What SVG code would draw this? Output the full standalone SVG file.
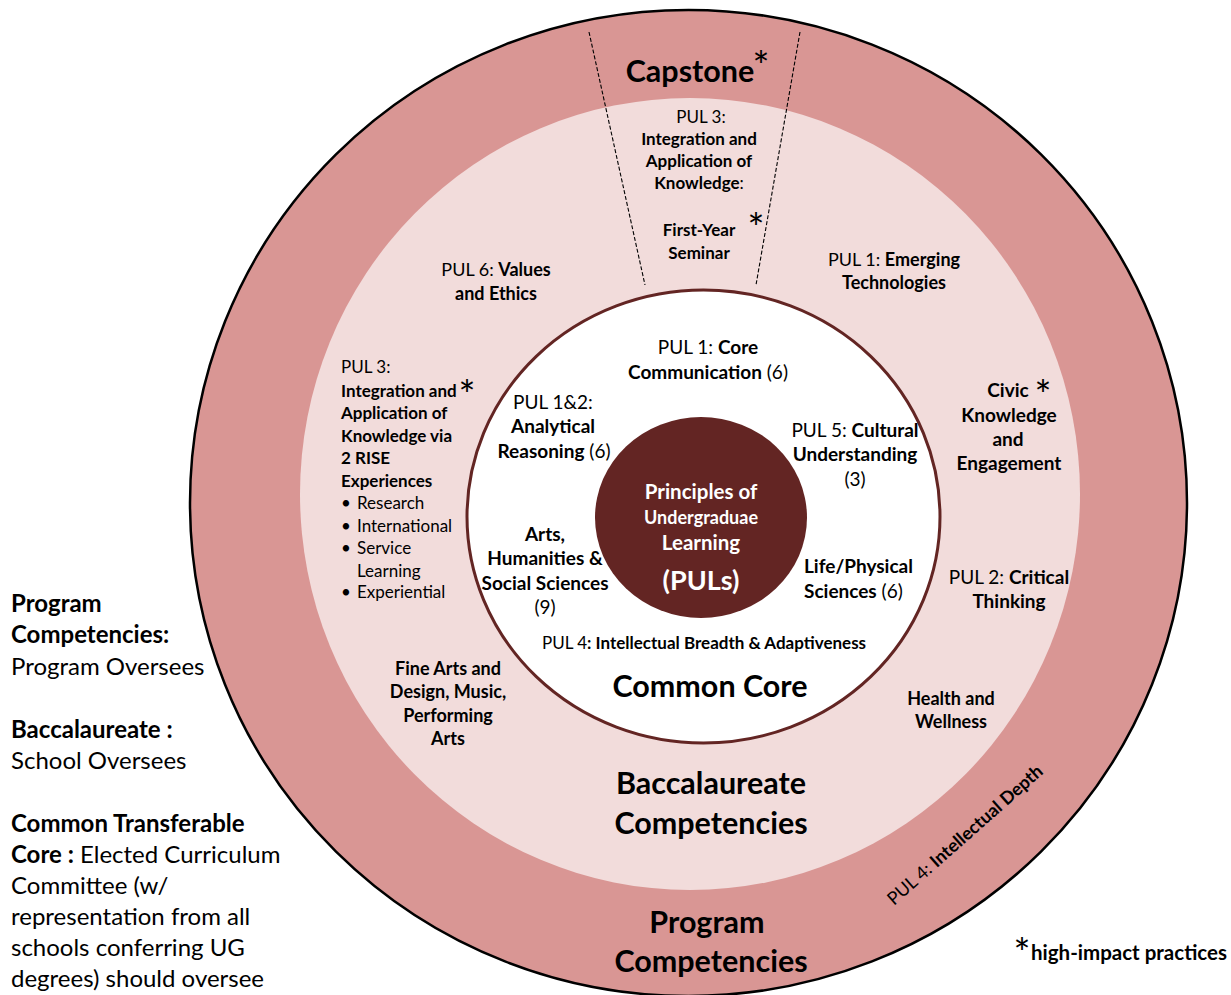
<svg xmlns="http://www.w3.org/2000/svg" width="1231" height="995" viewBox="0 0 1231 995">
<style>
text{font-family:Lato,"Open Sans","Liberation Sans",sans-serif;fill:#000}
.b{font-weight:700}
.r{font-weight:400}
.c{text-anchor:middle}
.s17{font-size:17px}
.s18{font-size:18px}
.s19{font-size:19px}
.big{font-size:30.5px;font-weight:700}
.leg{font-size:24px}
.star{font-size:40px;text-anchor:middle}
.w{fill:#fff;font-weight:700;text-anchor:middle}
.dash{stroke:#000;stroke-width:1.1;stroke-dasharray:4 2;fill:none}
</style>
<rect width="1231" height="995" fill="#fff"/>
<g id="program-ring">
<ellipse cx="688.5" cy="503" rx="498.5" ry="493" fill="#d99694" stroke="#000" stroke-width="2.5"/>
</g>
<g id="baccalaureate-ring">
<ellipse cx="690" cy="494" rx="390" ry="396" fill="#f2dcdb"/>
</g>
<g id="common-core">
<ellipse cx="703.5" cy="516.5" rx="236.5" ry="226.5" fill="#fff" stroke="#632523" stroke-width="3"/>
</g>
<g id="puls-center">
<ellipse cx="701" cy="517.5" rx="106" ry="100.5" fill="#632523"/>
<text class="w" x="701" y="499" style="font-size:20.5px">Principles of</text>
<text class="w" x="701" y="524" style="font-size:18px">Undergraduae</text>
<text class="w" x="701" y="550" style="font-size:20.5px">Learning</text>
<text class="w" x="701" y="590" style="font-size:27px">(PULs)</text>
</g>
<g id="connectors">
<line class="dash" x1="589" y1="32" x2="645" y2="285"/>
<line class="dash" x1="800" y1="32" x2="756" y2="285"/>
</g>
<g id="capstone">
<text class="big c" x="690" y="82">Capstone</text>
<text class="star" x="761" y="81">*</text>
</g>
<g id="first-year-seminar">
<text class="s17 c" x="701" y="123">PUL 3:</text>
<text class="s17 b c" x="699" y="145">Integration and</text>
<text class="s17 b c" x="699" y="167">Application of</text>
<text class="s17 c" x="699" y="189"><tspan class="b">Knowledge</tspan>:</text>
<text class="s17 b c" x="699" y="236">First-Year</text>
<text class="s17 b c" x="699" y="259">Seminar</text>
<text class="star" x="756" y="243">*</text>
</g>
<g id="values-ethics">
<text class="s18 c" x="496" y="276">PUL 6: <tspan class="b">Values</tspan></text>
<text class="s18 b c" x="496" y="300">and Ethics</text>
</g>
<g id="emerging-technologies">
<text class="s18 c" x="894" y="266">PUL 1: <tspan class="b">Emerging</tspan></text>
<text class="s18 b c" x="894" y="289">Technologies</text>
</g>
<g id="rise-experiences">
<text class="s17" x="341" y="373">PUL 3:</text>
<text class="s17 b" x="341" y="397">Integration and</text>
<text class="star" x="467" y="410">*</text>
<text class="s17 b" x="341" y="419">Application of</text>
<text class="s17 b" x="341" y="442">Knowledge via</text>
<text class="s17 b" x="341" y="464">2 RISE</text>
<text class="s17 b" x="341" y="487">Experiences</text>
<text class="s17" x="341" y="509">•</text><text class="s17" x="357" y="509">Research</text>
<text class="s17" x="341" y="532">•</text><text class="s17" x="357" y="532">International</text>
<text class="s17" x="341" y="554">•</text><text class="s17" x="357" y="554">Service</text>
<text class="s17" x="357" y="577">Learning</text>
<text class="s17" x="341" y="598">•</text><text class="s17" x="357" y="598">Experiential</text>
</g>
<g id="civic-engagement">
<text class="s19 b c" x="1008" y="397">Civic</text>
<text class="star" x="1043" y="410">*</text>
<text class="s19 b c" x="1009" y="422">Knowledge</text>
<text class="s19 b c" x="1008" y="446">and</text>
<text class="s19 b c" x="1009" y="470">Engagement</text>
</g>
<g id="critical-thinking">
<text class="s19 c" x="1009" y="584">PUL 2: <tspan class="b">Critical</tspan></text>
<text class="s19 b c" x="1009" y="608">Thinking</text>
</g>
<g id="health-wellness">
<text class="s18 b c" x="951" y="705">Health and</text>
<text class="s18 b c" x="951" y="728">Wellness</text>
</g>
<g id="fine-arts">
<text class="s18 b c" x="448" y="675">Fine Arts and</text>
<text class="s18 b c" x="448" y="698">Design, Music,</text>
<text class="s18 b c" x="448" y="722">Performing</text>
<text class="s18 b c" x="448" y="745">Arts</text>
</g>
<g id="core-communication">
<text class="s19 c" x="708" y="354">PUL 1: <tspan class="b">Core</tspan></text>
<text class="s19 c" x="708" y="379"><tspan class="b">Communication</tspan> (6)</text>
</g>
<g id="analytical-reasoning">
<text class="s19 c" x="553" y="409">PUL 1&amp;2:</text>
<text class="s19 b c" x="553" y="433">Analytical</text>
<text class="s19 c" x="554" y="458"><tspan class="b">Reasoning</tspan> (6)</text>
</g>
<g id="cultural-understanding">
<text class="s19 c" x="855" y="437">PUL 5: <tspan class="b">Cultural</tspan></text>
<text class="s19 b c" x="855" y="461">Understanding</text>
<text class="s19 c" x="855" y="486">(3)</text>
</g>
<g id="arts-humanities">
<text class="s19 b c" x="545" y="541">Arts,</text>
<text class="s19 b c" x="545" y="565">Humanities &amp;</text>
<text class="s19 b c" x="545" y="590">Social Sciences</text>
<text class="s19 c" x="545" y="614">(9)</text>
</g>
<g id="life-physical">
<text class="s19 b" x="804" y="573">Life/Physical</text>
<text class="s19" x="804" y="598"><tspan class="b">Sciences</tspan> (6)</text>
</g>
<g id="breadth">
<text class="s17 c" x="704" y="649">PUL 4<tspan class="b">: Intellectual Breadth &amp; Adaptiveness</tspan></text>
</g>
<g id="labels">
<text class="big c" x="710" y="697">Common Core</text>
<text class="big c" x="711" y="794">Baccalaureate</text>
<text class="big c" x="711" y="834">Competencies</text>
<text class="big c" x="707" y="933">Program</text>
<text class="big c" x="711" y="972">Competencies</text>
</g>
<g id="intellectual-depth">
<text class="s18" transform="translate(894 906) rotate(-41.5)">PUL 4: <tspan class="b">Intellectual Depth</tspan></text>
</g>
<g id="legend">
<text class="leg b" x="11" y="612">Program</text>
<text class="leg b" x="11" y="643">Competencies:</text>
<text class="leg" x="11" y="675">Program Oversees</text>
<text class="leg b" x="11" y="738">Baccalaureate :</text>
<text class="leg" x="11" y="769">School Oversees</text>
<text class="leg b" x="11" y="832">Common Transferable</text>
<text class="leg" x="11" y="863"><tspan class="b">Core :</tspan> Elected Curriculum</text>
<text class="leg" x="11" y="894">Committee (w/</text>
<text class="leg" x="11" y="925">representation from all</text>
<text class="leg" x="11" y="956">schools conferring UG</text>
<text class="leg" x="11" y="987">degrees) should oversee</text>
</g>
<g id="hip-note">
<text class="star" x="1022" y="968">*</text>
<text class="b" x="1031" y="960" style="font-size:20.5px">high-impact practices</text>
</g>
</svg>
